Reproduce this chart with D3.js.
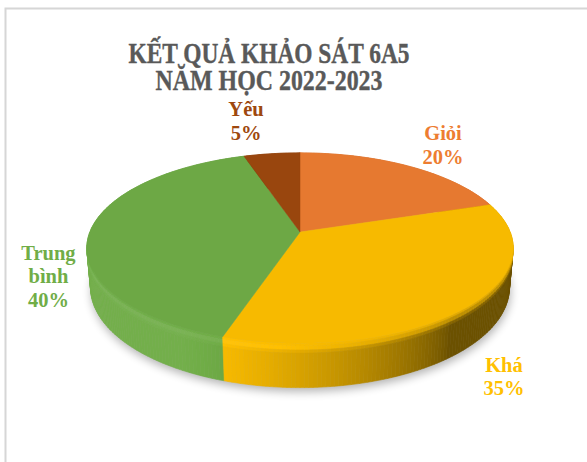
<!DOCTYPE html>
<html>
<head>
<meta charset="utf-8">
<script src="https://cdn.jsdelivr.net/npm/d3@7"></script>
<style>
  html, body { margin: 0; padding: 0; background: #fff; }
  svg { display: block; }
</style>
</head>
<body>
<svg id="chart"></svg>
<script>
const categories = ["Giỏi", "Khá", "Trung bình", "Yếu"];
const values = [20, 35, 40, 5];
const colors = ["#ed7d31", "#ffc000", "#70ad47", "#9e480e"];
const titleLines = ["KẾT QUẢ KHẢO SÁT 6A5", "NĂM HỌC 2022-2023"];

const w = 587;
const h = 462;

const svg = d3.select("#chart").attr("width", w).attr("height", h);

// frame of the chart area
svg.append("rect")
  .attr("x", 5.5).attr("y", 8.5)
  .attr("width", 620).attr("height", 520)
  .attr("fill", "#fff")
  .attr("stroke", "#d6d6d6")
  .attr("stroke-width", 2);

// title, tall condensed serif
const titleX = 269;
const titleBase = [63, 90];
const titleWidth = [281, 227];
titleLines.forEach((t, i) => {
  svg.append("text")
    .attr("x", titleX).attr("y", titleBase[i])
    .attr("text-anchor", "middle")
    .attr("font-family", "'Liberation Serif', 'Times New Roman', serif")
    .attr("font-weight", "bold")
    .attr("font-size", 30)
    .attr("fill", "#595959")
    .attr("stroke", "#595959")
    .attr("stroke-width", 0.4)
    .attr("textLength", titleWidth[i])
    .attr("lengthAdjust", "spacingAndGlyphs")
    .text(t);
});

// perspective set-up for the 3D pie
const cx = 300, cy = 232;
const f = 1120, D = 5.33;
const sinA = 0.44, cosA = 0.898;
const thick = 0.21;

function proj(k, a, z) {
  const X = k * Math.sin(a), Y = k * Math.cos(a);
  const depth = Y * cosA - z * sinA + D;
  const up = Y * sinA + z * cosA;
  return [cx + (f * X) / depth, cy - (f * up) / depth];
}

const pie = d3.pie().sort(null).value((d) => d.value);
const arcs = pie(categories.map((c, i) => ({ name: c, value: values[i] })));
const color = d3.scaleOrdinal().domain(categories).range(colors);
const line = d3.line();

function shade(base, k) {
  const c = d3.rgb(base);
  if (k <= 1) return d3.rgb(c.r * k, c.g * k, c.b * k).formatHex();
  const m = k - 1;
  return d3.rgb(c.r + (255 - c.r) * m, c.g + (255 - c.g) * m, c.b + (255 - c.b) * m).formatHex();
}

// light comes from the front-left
function light(a) {
  const g = Math.max(0, Math.min(1, Math.cos(a - (240 * Math.PI) / 180) + 0.15));
  return 0.42 + 0.6 * Math.pow(g, 0.8);
}

// soft shadow under the disc
const defs = svg.append("defs");
defs.append("filter").attr("id", "blur")
  .attr("x", "-20%").attr("y", "-20%").attr("width", "140%").attr("height", "140%")
  .append("feGaussianBlur").attr("stdDeviation", 5);

const rim = d3.range(0, 361, 2).map((d) => (d * Math.PI) / 180);
svg.append("path")
  .attr("d", line(rim.map((a) => proj(1.0, a, -thick))) + "Z")
  .attr("transform", "translate(1,4)")
  .attr("fill", "#000")
  .attr("opacity", 0.3)
  .attr("filter", "url(#blur)");

// side walls in small strips, far ones first
const step = Math.PI / 180;
const strips = [];
arcs.forEach((d) => {
  const n = Math.max(1, Math.ceil((d.endAngle - d.startAngle) / step));
  for (let i = 0; i < n; i++) {
    const a0 = d.startAngle + ((d.endAngle - d.startAngle) * i) / n;
    const a1 = d.startAngle + ((d.endAngle - d.startAngle) * (i + 1)) / n;
    strips.push({ a0, a1, name: d.data.name, depth: Math.cos((a0 + a1) / 2) });
  }
});
strips.sort((a, b) => b.depth - a.depth);

// wall bands from top edge down: rounded bevel (mostly top colour), then the lit wall
const bands = [
  { z0: 0, z1: 0.06, mix: 0.2, k: 1.03 },
  { z0: 0.06, z1: 0.15, mix: 0.5, k: 1.08 },
  { z0: 0.15, z1: 0.22, mix: 0.85, k: 1.03 },
  { z0: 0.22, z1: 1, mix: 1, k: 1 }
];

const walls = svg.append("g");
strips.forEach((s) => {
  const am = (s.a0 + s.a1) / 2;
  const k = light(am);
  const base = color(s.name);
  bands.forEach((b) => {
    const za = -thick * b.z0, zb = -thick * b.z1;
    const kk = (0.97 * (1 - b.mix) + k * b.mix) * b.k;
    const col = shade(base, Math.min(1.12, kk));
    walls.append("path")
      .attr("d", line([proj(1, s.a0, za), proj(1, s.a1, za), proj(1, s.a1, zb), proj(1, s.a0, zb)]) + "Z")
      .attr("fill", col)
      .attr("stroke", col)
      .attr("stroke-width", 0.6);
  });
});

// top faces
svg.append("g")
  .selectAll("path")
  .data(arcs)
  .join("path")
  .attr("d", (d) => {
    const n = Math.max(2, Math.ceil((d.endAngle - d.startAngle) / step));
    const pts = [proj(0, 0, 0)];
    for (let i = 0; i <= n; i++) {
      pts.push(proj(1, d.startAngle + ((d.endAngle - d.startAngle) * i) / n, 0));
    }
    return line(pts) + "Z";
  })
  .attr("fill", (d) => shade(color(d.data.name), 0.97))
  .attr("stroke", (d) => shade(color(d.data.name), 0.97))
  .attr("stroke-width", 0.5);

// data labels, placed off the rim at each slice's middle angle
const labelOffset = { "Giỏi": [34.3, -21.2], "Khá": [35.3, 70.3], "Trung bình": [-41.4, 44], "Yếu": [-25.8, -32.7] };
const lh = 23.5;
arcs.forEach((d) => {
  const mid = (d.startAngle + d.endAngle) / 2;
  const p = proj(1, mid, 0);
  const off = labelOffset[d.data.name];
  const lx = p[0] + off[0], ly = p[1] + off[1];
  const pct = Math.round((d.value / d3.sum(values)) * 100) + "%";
  const lines = d.data.name.split(" ").concat([pct]);
  const t = svg.append("text")
    .attr("text-anchor", "middle")
    .attr("font-family", "'Liberation Serif', 'Times New Roman', serif")
    .attr("font-weight", "bold")
    .attr("font-size", 20.5)
    .attr("fill", color(d.data.name));
  lines.forEach((s, i) => {
    t.append("tspan")
      .attr("x", lx)
      .attr("y", ly - ((lines.length - 1) * lh) / 2 + 7 + i * lh)
      .text(s);
  });
});
</script>
</body>
</html>
